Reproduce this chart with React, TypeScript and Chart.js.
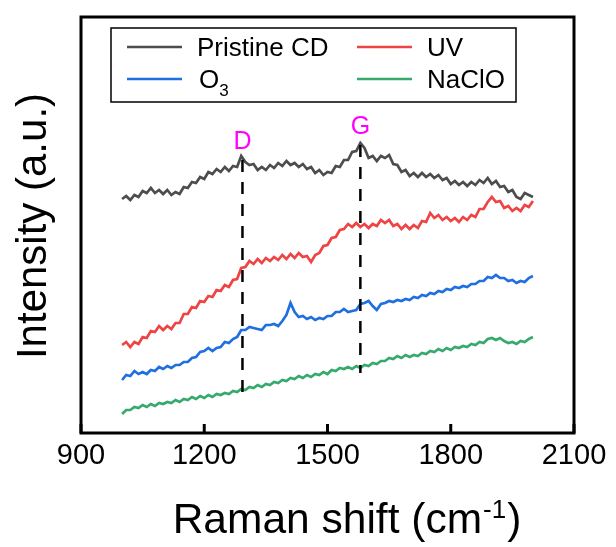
import React, { useEffect, useRef } from "react";
import { Chart, registerables } from "chart.js";

Chart.register(...registerables);

// Raman shift (cm-1) sample positions
const RAMAN_SHIFT = [
  1000, 1010, 1020, 1030, 1040, 1050, 1060, 1070, 1080, 1090,
  1100, 1110, 1120, 1130, 1140, 1150, 1160, 1170, 1180, 1190,
  1200, 1210, 1220, 1230, 1240, 1250, 1260, 1270, 1280, 1290,
  1300, 1310, 1320, 1330, 1340, 1350, 1360, 1370, 1380, 1390,
  1400, 1410, 1420, 1430, 1440, 1450, 1460, 1470, 1480, 1490,
  1500, 1510, 1520, 1530, 1540, 1550, 1560, 1570, 1580, 1590,
  1600, 1610, 1620, 1630, 1640, 1650, 1660, 1670, 1680, 1690,
  1700, 1710, 1720, 1730, 1740, 1750, 1760, 1770, 1780, 1790,
  1800, 1810, 1820, 1830, 1840, 1850, 1860, 1870, 1880, 1890,
  1900, 1910, 1920, 1930, 1940, 1950, 1960, 1970, 1980, 1990,
  2000,
];

// Intensities (a.u., offset-stacked as in the figure)
const PRISTINE_CD = [
  234, 237, 233, 238, 236, 242, 240, 245, 240, 243,
  239, 243, 238, 241, 239, 246, 245, 251, 250, 256,
  254, 261, 259, 264, 261, 266, 262, 267, 266, 277,
  271, 268, 269, 263, 266, 263, 268, 265, 270, 267,
  272, 268, 270, 266, 269, 264, 266, 260, 263, 258,
  261, 260, 267, 266, 273, 273, 281, 282, 290, 285,
  275, 277, 272, 277, 275, 278, 269, 268, 261, 263,
  257, 260, 256, 260, 256, 259, 255, 258, 253, 255,
  249, 252, 248, 251, 247, 251, 248, 253, 250, 255,
  249, 252, 246, 247, 241, 243, 236, 234, 240, 238,
  236,
];

const UV = [
  88, 91, 86, 91, 89, 96, 95, 102, 101, 107,
  103, 107, 104, 110, 110, 119, 119, 126, 125, 132,
  131, 137, 136, 143, 142, 148, 146, 153, 154, 165,
  166, 172, 169, 174, 170, 175, 172, 176, 173, 178,
  174, 179, 175, 180, 176, 177, 171, 178, 180, 187,
  188, 195, 196, 203, 204, 209, 206, 210, 206, 209,
  205, 209, 207, 213, 210, 213, 207, 209, 204, 208,
  204, 208, 205, 212, 211, 220, 215, 218, 213, 216,
  212, 215, 211, 216, 213, 218, 216, 224, 224, 231,
  236, 231, 232, 225, 227, 222, 225, 222, 228, 226,
  232,
];

const O3 = [
  53, 58, 57, 62, 59, 61, 59, 63, 62, 66,
  64, 67, 65, 68, 68, 71, 71, 75, 76, 81,
  82, 85, 82, 85, 86, 91, 90, 94, 96, 103,
  103, 106, 105, 104, 103, 108, 108, 109, 107, 112,
  118, 130, 121, 116, 117, 114, 116, 113, 115, 114,
  117, 117, 121, 121, 124, 121, 122, 123, 129, 130,
  132, 127, 123, 129, 130, 132, 131, 133, 132, 134,
  133, 136, 135, 138, 137, 140, 139, 142, 141, 144,
  143, 146, 145, 147, 146, 149, 149, 152, 152, 156,
  155, 158, 155, 155, 152, 153, 150, 152, 151, 155,
  157,
];

const NACLO = [
  19, 23, 23, 26, 25, 28, 26, 29, 27, 30,
  29, 31, 30, 33, 31, 34, 33, 36, 34, 37,
  35, 38, 36, 39, 38, 40, 39, 42, 41, 44,
  43, 46, 45, 48, 46, 49, 48, 51, 50, 53,
  52, 55, 54, 57, 55, 58, 56, 59, 58, 61,
  59, 63, 62, 65, 64, 66, 64, 67, 65, 68,
  67, 70, 69, 72, 72, 75, 74, 77, 75, 78,
  76, 78, 77, 80, 79, 82, 81, 84, 82, 85,
  83, 86, 85, 87, 86, 89, 88, 91, 90, 94,
  95, 93, 95, 92, 90, 91, 89, 92, 91, 94,
  96,
];

const X_TICKS = [900, 1200, 1500, 1800, 2100];
const SERIES_LABELS = ["Pristine CD", "UV", "O3", "NaClO"];
const SERIES_COLORS = ["#4d4d4d", "#ef4444", "#1f6fe0", "#36aa6c"];
const PEAK_LABELS = ["D", "G"];
const PEAK_POS = [1293, 1580];
const PEAK_LINE_TOP = [273, 288];
const PEAK_LINE_BOTTOM = [41, 60];

const FONT = '"Liberation Sans", Arial, Helvetica, sans-serif';

function pts(ys: number[]) {
  return RAMAN_SHIFT.map((x, i) => ({ x, y: ys[i] }));
}

const overlayPlugin = {
  id: "overlay",
  afterDatasetsDraw(chart: any) {
    const { ctx, chartArea: a, scales } = chart;
    const xs = scales.x;
    const ys = scales.y;
    ctx.save();

    // frame
    ctx.strokeStyle = "#000";
    ctx.lineWidth = 3;
    ctx.strokeRect(a.left, a.top, a.right - a.left, a.bottom - a.top);

    // inward ticks on bottom axis
    ctx.lineWidth = 3;
    X_TICKS.forEach((v) => {
      const px = xs.getPixelForValue(v);
      ctx.beginPath();
      ctx.moveTo(px, a.bottom);
      ctx.lineTo(px, a.bottom - 9);
      ctx.stroke();
    });

    // peak labels
    ctx.fillStyle = "#ff00ff";
    ctx.font = `25px ${FONT}`;
    ctx.textAlign = "center";
    ctx.textBaseline = "alphabetic";
    PEAK_LABELS.forEach((lab, i) => {
      const px = xs.getPixelForValue(PEAK_POS[i]);
      const py = ys.getPixelForValue(PEAK_LINE_TOP[i]) - 11;
      ctx.fillText(lab, px, py);
    });

    // legend
    const lx = 111, ly = 28, lw = 405, lh = 74;
    ctx.fillStyle = "#fff";
    ctx.fillRect(lx, ly, lw, lh);
    ctx.strokeStyle = "#000";
    ctx.lineWidth = 1.5;
    ctx.strokeRect(lx, ly, lw, lh);
    const cols = [127, 357];
    const rows = [47, 79];
    [0, 1, 2, 3].forEach((si, k) => {
      const col = k % 2;
      const row = Math.floor(k / 2);
      const x0 = cols[col];
      const y0 = rows[row];
      ctx.strokeStyle = SERIES_COLORS[si];
      ctx.lineWidth = 2.5;
      ctx.beginPath();
      ctx.moveTo(x0, y0);
      ctx.lineTo(x0 + 55, y0);
      ctx.stroke();
      ctx.fillStyle = "#000";
      ctx.textAlign = "left";
      ctx.textBaseline = "alphabetic";
      const tx = x0 + 70;
      const base = y0 + 8.5;
      const label = SERIES_LABELS[si];
      if (label === "O3") {
        ctx.font = `26px ${FONT}`;
        ctx.fillText("O", tx + 2, base);
        const w = ctx.measureText("O").width;
        ctx.font = `17px ${FONT}`;
        ctx.fillText("3", tx + 2 + w, base + 8);
      } else {
        ctx.font = `26px ${FONT}`;
        ctx.fillText(label, tx, base);
      }
    });

    // x axis title with superscript
    ctx.fillStyle = "#000";
    ctx.textAlign = "left";
    ctx.textBaseline = "alphabetic";
    const mainFont = `42.5px ${FONT}`;
    const supFont = `26px ${FONT}`;
    ctx.font = mainFont;
    const p1 = "Raman shift (cm";
    const p3 = ")";
    const w1 = ctx.measureText(p1).width;
    const w3 = ctx.measureText(p3).width;
    ctx.font = supFont;
    const w2 = ctx.measureText("-1").width + 2;
    const total = w1 + w2 + w3;
    const cx = 347;
    const sx = cx - total / 2;
    const by = 533;
    ctx.font = mainFont;
    ctx.fillText(p1, sx, by);
    ctx.font = supFont;
    ctx.fillText("-1", sx + w1 + 1, by - 15);
    ctx.font = mainFont;
    ctx.fillText(p3, sx + w1 + w2, by);

    // y axis title
    ctx.save();
    ctx.translate(46, 226);
    ctx.rotate(-Math.PI / 2);
    ctx.textAlign = "center";
    ctx.font = `42px ${FONT}`;
    ctx.fillText("Intensity (a.u.)", 0, 0);
    ctx.restore();

    ctx.restore();
  },
};

export default function App() {
  const ref = useRef<HTMLCanvasElement | null>(null);

  useEffect(() => {
    if (!ref.current) return;
    const datasets: any[] = [];
    PEAK_POS.forEach((xv, i) => {
      datasets.push({
        label: "peak-" + PEAK_LABELS[i],
        data: [
          { x: xv, y: PEAK_LINE_TOP[i] },
          { x: xv, y: PEAK_LINE_BOTTOM[i] },
        ],
        borderColor: "#000",
        borderWidth: 2.5,
        borderDash: [12, 10],
        pointRadius: 0,
        order: 0,
      });
    });
    const seriesData = [PRISTINE_CD, UV, O3, NACLO];
    seriesData.forEach((ys, i) => {
      datasets.push({
        label: SERIES_LABELS[i],
        data: pts(ys),
        borderColor: SERIES_COLORS[i],
        borderWidth: 2.7,
        pointRadius: 0,
        tension: 0,
        order: 1,
      });
    });

    const chart = new Chart(ref.current, {
      type: "line",
      data: { datasets },
      options: {
        animation: false,
        responsive: false,
        devicePixelRatio: 1,
        layout: { padding: { top: 17, right: 42, left: 0, bottom: 0 } },
        plugins: {
          legend: { display: false },
          tooltip: { enabled: false },
        },
        scales: {
          x: {
            type: "linear",
            min: 900,
            max: 2100,
            afterBuildTicks: (s: any) => {
              s.ticks = X_TICKS.map((v) => ({ value: v }));
            },
            ticks: {
              color: "#000",
              padding: 6,
              font: { size: 29, family: FONT },
              maxRotation: 0,
              autoSkip: false,
              callback: (v: any) => String(v),
            },
            grid: { display: false, drawTicks: false },
            border: { display: false },
            afterFit: (s: any) => {
              s.height = 114;
            },
          },
          y: {
            type: "linear",
            min: 0,
            max: 416,
            ticks: { display: false },
            grid: { display: false, drawTicks: false },
            border: { display: false },
            afterFit: (s: any) => {
              s.width = 81;
            },
          },
        },
      },
      plugins: [overlayPlugin],
    });
    return () => chart.destroy();
  }, []);

  return (
    <div style={{ position: "fixed", left: 0, top: 0, width: 616, height: 547, background: "#fff" }}>
      <canvas ref={ref} width={616} height={547} style={{ display: "block", width: 616, height: 547 }} />
    </div>
  );
}
